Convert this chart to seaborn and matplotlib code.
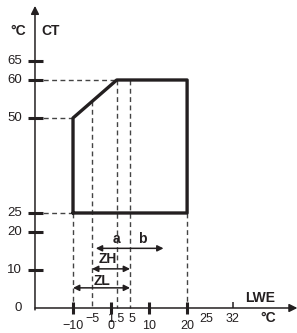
import matplotlib
matplotlib.use('Agg')
import matplotlib.pyplot as plt
import seaborn as sns
import pandas as pd

sns.set_style('white')
plt.rcParams['font.family'] = ['Liberation Sans', 'DejaVu Sans']

# operating envelope (LWE, CT)
env_lwe = [-10, -10, 1.5, 20, 20, -10]
env_ct = [25, 50, 60, 60, 25, 25]

y_ticks = [10, 20, 25, 50, 60, 65]
y_labels = ['0', '10', '20', '25', '50', '60', '65']
y_label_vals = [0, 10, 20, 25, 50, 60, 65]

x_major = [-10, 0, 10, 20]
x_minor = [32]
x_labels = ['−10', '−5', '0', '1.5', '5', '10', '20', '25', '32']
x_label_vals = [-10, -5, 0, 1.5, 5, 10, 20, 25, 32]
x_label_low = [True, False, True, False, False, True, True, False, False]

ink = '#231f20'
dash = '#444444'

fig = plt.figure(figsize=(2.97, 3.33), dpi=100)
ax = fig.add_axes([0, 0, 1, 1])

# dashed guide lines
dk = dict(color=dash, lw=1, ls=(0, (3.5, 2.5)), zorder=1)
ax.plot([-20, 1.5], [60, 60], **dk)
ax.plot([-20, -10], [50, 50], **dk)
ax.plot([-20, -10], [25, 25], **dk)
ax.plot([-10, -10], [25, 0], **dk)
ax.plot([-5, -5], [50 + 5 * 10 / 11.5, 0], **dk)
ax.plot([1.5, 1.5], [60, 0], **dk)
ax.plot([5, 5], [60, 0], **dk)
ax.plot([20, 20], [25, 0], **dk)

# envelope outline
env = pd.DataFrame({'LWE': env_lwe, 'CT': env_ct})
sns.lineplot(data=env, x='LWE', y='CT', sort=False, estimator=None,
             color=ink, lw=2.4, ax=ax, zorder=3)
ax.set_xlim(-29.2, 48.9)
ax.set_ylim(-6.58, 81.05)
ax.axis('off')

# axes with arrows
ak = dict(arrowstyle='-|>', lw=1.1, color=ink, mutation_scale=12, shrinkA=0, shrinkB=0)
ax.annotate('', xy=(49, 0), xytext=(-20, 0), arrowprops=ak)
ax.annotate('', xy=(-20, 79.5), xytext=(-20, -0.5), arrowprops=ak)

# y ticks
for v in y_ticks:
    ax.plot([-21.9, -17.9], [v, v], color=ink, lw=2.2, solid_capstyle='butt')
for v, t in zip(y_label_vals, y_labels):
    ax.text(-23.4, v, t, ha='right', va='center', fontsize=9.5, color=ink)

# x ticks
for v in x_major:
    ax.plot([v, v], [1.6, -1.6], color=ink, lw=2.2, solid_capstyle='butt')
for v in x_minor:
    ax.plot([v, v], [1.6, 0], color=ink, lw=1.1, solid_capstyle='butt')
nudge = {1.5: -0.4, 5: 0.5}
for v, t, low in zip(x_label_vals, x_labels, x_label_low):
    ax.text(v + nudge.get(v, 0), -4.8 if low else -2.8, t, ha='center', va='center',
            fontsize=9, color=ink)

# axis titles
bold = dict(fontsize=10, fontweight='bold', color=ink)
ax.text(-24.5, 73, '°C', ha='center', va='center', **bold)
ax.text(-16, 73, 'CT', ha='center', va='center', **bold)
ax.text(39.2, 2.6, 'LWE', ha='center', va='center', **bold)
ax.text(41.3, -2.7, '°C', ha='center', va='center', **bold)

# range arrows
rk = dict(arrowstyle='<|-|>', lw=1.1, color=ink, mutation_scale=9, shrinkA=0, shrinkB=0)
ax.annotate('', xy=(13.8, 15.7), xytext=(-4.0, 15.7), arrowprops=rk)
ax.text(1.5, 16.2, 'a', ha='center', va='bottom', **bold)
ax.text(8.2, 16.2, 'b', ha='center', va='bottom', **bold)
ax.annotate('', xy=(5, 10.3), xytext=(-5, 10.3), arrowprops=rk)
ax.text(-0.8, 12.9, 'ZH', ha='center', va='center', **bold)
ax.annotate('', xy=(5, 5.3), xytext=(-10, 5.3), arrowprops=rk)
ax.text(-2.4, 7.0, 'ZL', ha='center', va='center', **bold)

plt.savefig('out.png', dpi=100)
